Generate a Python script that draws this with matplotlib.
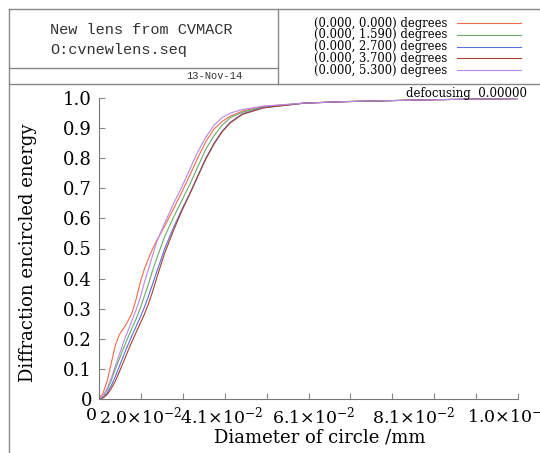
import numpy as np
import matplotlib
matplotlib.use("Agg")
import matplotlib.pyplot as plt
from matplotlib.lines import Line2D

W, H = 540, 453

# diameter of circle (mm)
diam = [0, 0.001, 0.002, 0.003, 0.004, 0.005, 0.006, 0.007, 0.008, 0.009,
        0.010, 0.011, 0.012, 0.013, 0.014, 0.016, 0.018, 0.020, 0.022,
        0.024, 0.026, 0.028, 0.030, 0.032, 0.035, 0.040, 0.050, 0.060,
        0.070, 0.080, 0.090, 0.102]

tail = [0.983, 0.988, 0.991, 0.994, 0.996, 0.998]

ee_000 = [0, 0.02, 0.06, 0.12, 0.18, 0.215, 0.235, 0.258, 0.285, 0.33,
          0.385, 0.43, 0.465, 0.497, 0.525, 0.575, 0.628, 0.683, 0.74,
          0.80, 0.855, 0.897, 0.922, 0.94, 0.957, 0.972] + tail
ee_159 = [0, 0.008, 0.03, 0.062, 0.10, 0.135, 0.17, 0.203, 0.235, 0.265,
          0.30, 0.34, 0.38, 0.425, 0.465, 0.54, 0.60, 0.655, 0.71, 0.77,
          0.83, 0.875, 0.91, 0.935, 0.953, 0.970] + tail
ee_270 = [0, 0.005, 0.02, 0.045, 0.075, 0.11, 0.145, 0.178, 0.21, 0.24,
          0.27, 0.303, 0.34, 0.38, 0.42, 0.50, 0.565, 0.625, 0.68, 0.74,
          0.80, 0.85, 0.89, 0.92, 0.948, 0.968] + tail
ee_370 = [0, 0.004, 0.015, 0.035, 0.06, 0.092, 0.125, 0.158, 0.19, 0.22,
          0.25, 0.28, 0.315, 0.355, 0.40, 0.485, 0.555, 0.62, 0.678, 0.738,
          0.797, 0.847, 0.888, 0.918, 0.946, 0.967] + tail
ee_530 = [0, 0.01, 0.035, 0.07, 0.11, 0.15, 0.19, 0.225, 0.26, 0.295,
          0.335, 0.385, 0.43, 0.475, 0.52, 0.585, 0.645, 0.70, 0.76, 0.82,
          0.87, 0.91, 0.935, 0.95, 0.962, 0.973] + tail

fields = ["(0.000, 0.000) degrees", "(0.000, 1.590) degrees",
          "(0.000, 2.700) degrees", "(0.000, 3.700) degrees",
          "(0.000, 5.300) degrees"]
series = [ee_000, ee_159, ee_270, ee_370, ee_530]
colors = ["#f26a48", "#6aaa6a", "#5a6ee0", "#a8402e", "#b888e4"]

x_ticks = [0, 0.0102, 0.0204, 0.0306, 0.0408, 0.051, 0.0612, 0.0714,
           0.0816, 0.0918, 0.102]
y_ticks = [0, 0.1, 0.2, 0.3, 0.4, 0.5, 0.6, 0.7, 0.8, 0.9, 1.0]
y_ticklabels = ["0", "0.1", "0.2", "0.3", "0.4", "0.5", "0.6", "0.7",
                "0.8", "0.9", "1.0"]
x_ticklabels = ["0", r"2.0$\times$10$^{-2}$", r"4.1$\times$10$^{-2}$",
                r"6.1$\times$10$^{-2}$", r"8.1$\times$10$^{-2}$",
                r"1.0$\times$10$^{-1}$"]
x_label_px = [86, 99, 180, 272, 372, 467]   # left edges in pixels

plt.rcParams["font.family"] = "DejaVu Serif"
plt.rcParams["mathtext.fontset"] = "dejavuserif"

def fx(px):
    return px / W

def fy(py):
    return 1 - py / H

fig = plt.figure(figsize=(W / 100, H / 100), dpi=100)
ax = fig.add_axes([fx(99), fy(399), (518 - 99) / W, (399 - 98) / H])

for ee, c in zip(series, colors):
    ax.plot(diam, ee, color=c, lw=0.8)

ax.set_xlim(0, 0.102)
ax.set_ylim(0, 1.0)
ax.set_xticks(x_ticks)
ax.set_xticklabels([])
ax.set_yticks(y_ticks)
ax.set_yticklabels(y_ticklabels, fontsize=13)
ax.tick_params(direction="in", length=4, color="#888888", width=0.8, pad=5)
for s in ["top", "right"]:
    ax.spines[s].set_visible(False)
for s in ["left", "bottom"]:
    ax.spines[s].set_color("#777777")
    ax.spines[s].set_linewidth(0.8)

for lab, px in zip(x_ticklabels, x_label_px):
    fig.text(fx(px), fy(416), lab, fontsize=12.5, ha="left", va="center")

fig.text(fx(320), fy(438), "Diameter of circle /mm", fontsize=13,
         ha="center", va="center")
fig.text(fx(28), fy(253), "Diffraction encircled energy", fontsize=13,
         rotation=90, ha="center", va="center")

# header frame
gray = "#888888"
frame = [((9, 540), (9, 9)), ((9, 9), (9, 453)), ((278, 278), (9, 84)),
         ((9, 278), (68, 68)), ((9, 540), (84, 84))]
for xs, ys in frame:
    fig.add_artist(Line2D([fx(v) for v in xs], [fy(v) for v in ys],
                          color=gray, lw=1.0, transform=fig.transFigure))

fig.text(fx(50), fy(30), "New lens from CVMACR", family="Liberation Mono",
         fontsize=11, color="#333333", va="center")
fig.text(fx(50), fy(50), "O:cvnewlens.seq", family="Liberation Mono",
         fontsize=11, color="#333333", va="center")
fig.text(fx(243), fy(76), "13-Nov-14", family="Liberation Mono",
         fontsize=7.5, color="#333333", ha="right", va="center")

for i, (name, c) in enumerate(zip(fields, colors)):
    yy = 23 + 11.8 * i
    fig.text(fx(447), fy(yy), name, fontsize=8.3, ha="right", va="center")
    fig.add_artist(Line2D([fx(457), fx(521)], [fy(yy), fy(yy)], color=c,
                          lw=0.8, transform=fig.transFigure))

fig.text(fx(527), fy(93), "defocusing  0.00000", fontsize=8.5,
         ha="right", va="center")

fig.savefig("out.png", dpi=100)
